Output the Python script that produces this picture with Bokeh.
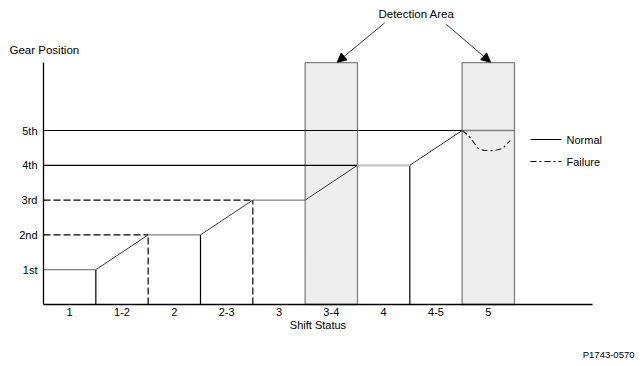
from bokeh.plotting import figure
from bokeh.models import (Range1d, LinearAxis, FixedTicker, Arrow, NormalHead,
                          ColumnDataSource)
from bokeh.core.properties import value
from bokeh.embed import file_html
from bokeh.resources import INLINE

# ---- data ----
shift_status = ["1", "1-2", "2", "2-3", "3", "3-4", "4", "4-5", "5"]
gear_labels = ["1st", "2nd", "3rd", "4th", "5th"]
gear_levels = [1, 2, 3, 4, 5]

# normal gear trace at the boundaries of each shift-status zone
normal_x = [0, 1, 2, 3, 4, 5, 6, 7, 8, 9]
normal_y = [1, 1, 2, 2, 3, 3, 4, 4, 5, 5]

# failure trace inside the 5th-gear detection area
failure_x = [8.0, 8.12, 8.22, 8.31, 8.41, 8.60, 8.77, 8.86, 8.92]
failure_y = [5.0, 4.86, 4.66, 4.48, 4.43, 4.42, 4.48, 4.62, 4.71]

# detection areas (shift-status zones "3-4" and "5")
detect_left = [5, 8]
detect_right = [6, 9]
axis_top = 6.95

# guide lines: (x end, gear level, dashed?)
guide_end = [2, 4, 6, 8]
guide_level = [2, 3, 4, 5]
guide_dashed = [True, True, False, False]

# zone boundary drop lines: (x, top level, dashed?)
drop_x = [1, 2, 3, 4, 7]
drop_top = [1, 2, 2, 3, 4]
drop_dashed = [False, True, False, True, False]

FONT = "Liberation Sans"

# pixel mapping of the drawing
X0, XU = 43.0, 52.33
Y0, YU = 304.0, 34.8
W, H = 643, 366

p = figure(width=W, height=H, output_backend="svg", toolbar_location=None,
           x_axis_type=None, y_axis_type=None, min_border=0,
           x_range=Range1d(-X0 / XU, (W - X0) / XU),
           y_range=Range1d(-(H - Y0) / YU, Y0 / YU))
p.grid.visible = False
p.outline_line_color = None
p.background_fill_color = "white"
p.border_fill_color = "white"

# detection area boxes
p.quad(left=detect_left, right=detect_right, bottom=0, top=axis_top,
       fill_color="#eeeeee", line_color="#808080", line_width=1.3)

# guide lines from the y axis
for xe, lv, d in zip(guide_end, guide_level, guide_dashed):
    p.line([0, xe], [lv, lv], line_color="black", line_width=1.2,
           line_dash="7 3" if d else "solid")

# drop lines
for xd, top, d in zip(drop_x, drop_top, drop_dashed):
    p.line([xd, xd], [0, top], line_color="black", line_width=1.2,
           line_dash="7 3" if d else "solid")

# normal trace, flats gray, ramps dark
seg = dict(x0=normal_x[:-1], y0=normal_y[:-1], x1=normal_x[1:], y1=normal_y[1:])
cols, widths = [], []
for a, b, lv in zip(normal_y[:-1], normal_y[1:], normal_y[:-1]):
    if a == b:
        cols.append("#c4c4c4" if lv == 4 else "#808080")
        widths.append(2.2 if lv == 4 else 1.3)
    else:
        cols.append("#333333")
        widths.append(1.0)
seg["c"] = cols
seg["w"] = widths
p.segment(x0="x0", y0="y0", x1="x1", y1="y1", line_color="c", line_width="w",
          source=ColumnDataSource(seg))

# failure trace
p.line(failure_x, failure_y, line_color="#333333", line_width=1.2,
       line_dash="6 3 2 3")

# axes
yax = LinearAxis(fixed_location=0, bounds=(0, axis_top),
                 ticker=FixedTicker(ticks=gear_levels),
                 major_label_overrides={g: t for g, t in zip(gear_levels, gear_labels)})
yax.axis_line_color = "black"
yax.axis_line_width = 1.3
yax.major_tick_in = 0
yax.major_tick_out = 0
yax.minor_tick_in = 0
yax.minor_tick_out = 0
yax.major_label_standoff = 6
yax.major_label_text_font = FONT
yax.major_label_text_font_size = "11px"
yax.major_label_text_color = "black"
p.add_layout(yax, "left")

xticks = [i + 0.5 for i in range(len(shift_status))]
xax = LinearAxis(fixed_location=0, bounds=(0, 10.5),
                 ticker=FixedTicker(ticks=xticks),
                 major_label_overrides={t: s for t, s in zip(xticks, shift_status)},
                 axis_label="Shift Status")
xax.axis_line_color = "black"
xax.axis_line_width = 1.3
xax.major_tick_in = 0
xax.major_tick_out = 0
xax.minor_tick_in = 0
xax.minor_tick_out = 0
xax.major_label_standoff = 3
xax.major_label_text_font = FONT
xax.major_label_text_font_size = "11px"
xax.major_label_text_color = "black"
xax.axis_label_standoff = 0
xax.axis_label_text_font = FONT
xax.axis_label_text_font_size = "11px"
xax.axis_label_text_font_style = "normal"
xax.axis_label_text_color = "black"
p.add_layout(xax, "below")

# titles and notes
def label(x, y, s, align="left", size="11px"):
    p.text(x=[x], y=[y], text=[s], text_font=value(FONT), text_font_size=size,
           text_align=align, text_baseline="middle", text_color="black")

label((9 - X0) / XU, (Y0 - 49) / YU, "Gear Position", size="11.5px")
label((416 - X0) / XU, (Y0 - 13) / YU, "Detection Area", align="center", size="11.5px")
label((634 - X0) / XU, (Y0 - 354) / YU, "P1743-0570", align="right", size="9.5px")

# arrows to the detection areas
for (sx, sy), (ex, ey) in [((384.3, 22.3), (336.7, 61.7)), ((446, 24), (490, 61.7))]:
    p.add_layout(Arrow(end=NormalHead(size=9, fill_color="black", line_color="black"),
                       x_start=(sx - X0) / XU, y_start=(Y0 - sy) / YU,
                       x_end=(ex - X0) / XU, y_end=(Y0 - ey) / YU,
                       line_color="#333333", line_width=1))

# legend
lx0, lx1, ltx = (530 - X0) / XU, (561 - X0) / XU, (566 - X0) / XU
ly_n, ly_f = (Y0 - 139) / YU, (Y0 - 161) / YU
p.line([lx0, lx1], [ly_n, ly_n], line_color="black", line_width=1.2)
p.line([lx0, lx1], [ly_f, ly_f], line_color="black", line_width=1.2, line_dash="6 3 2 3")
label(ltx, ly_n, "Normal")
label(ltx, ly_f, "Failure")

open("out.html", "w").write(file_html(p, INLINE))
